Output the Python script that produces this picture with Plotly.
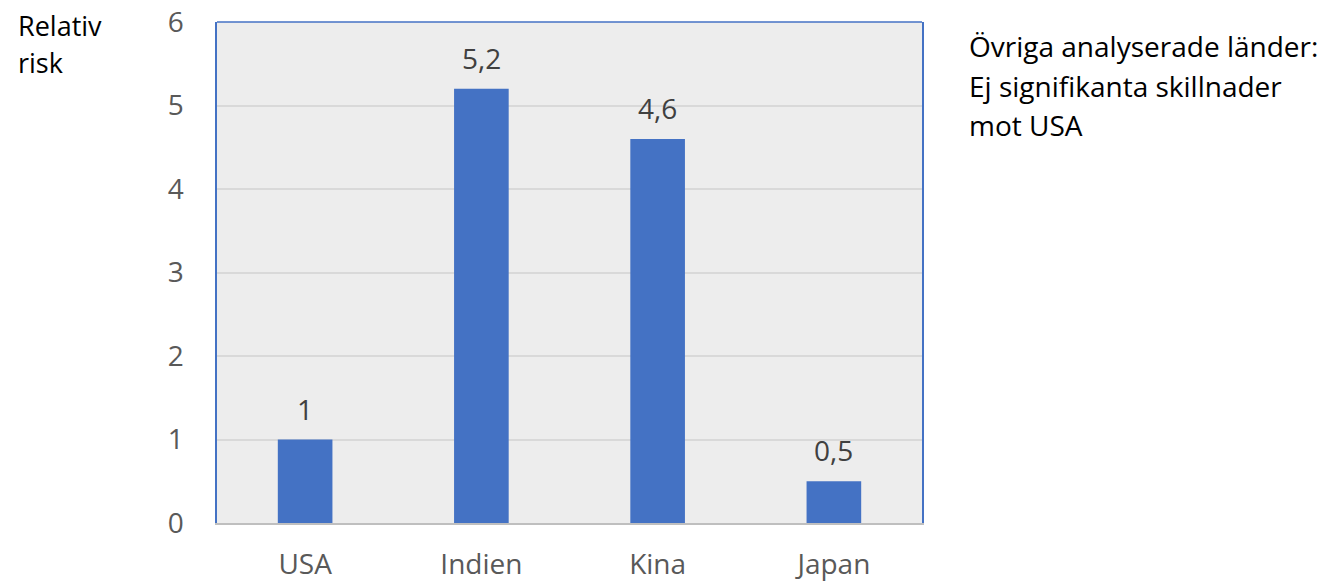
import plotly.graph_objects as go

# Relative risk by country
countries = ["USA", "Indien", "Kina", "Japan"]
relative_risk = [1.0, 5.2, 4.6, 0.5]
y_ticks = [0, 1, 2, 3, 4, 5, 6]
y_tick_labels = ["0", "1", "2", "3", "4", "5", "6"]
side_note = ["Övriga analyserade länder:", "Ej signifikanta skillnader", "mot USA"]
axis_title = ["Relativ", "risk"]

FONT = "Open Sans"
FS = 28
BAR = "#4472c4"
W, H = 1328, 582
L, R, T, B = 217, 922, 22, 523
pw, ph = R - L, B - T

fig = go.Figure(
    go.Bar(
        x=countries,
        y=relative_risk,
        width=0.31,
        marker=dict(color=BAR, line=dict(width=0)),
        cliponaxis=False,
        hoverinfo="x+y",
    )
)


def px_x(x):
    return (x - L) / pw


def px_y(y):
    return (B - y) / ph


annotations = []
# value labels above each bar (comma as decimal separator)
for c, v in zip(countries, relative_risk):
    annotations.append(dict(
        text=f"{v:g}".replace(".", ","), x=c, y=v, xref="x", yref="y",
        xanchor="center", yanchor="bottom", yshift=10, showarrow=False,
        font=dict(family=FONT, size=FS, color="#404040"),
    ))
for i, line in enumerate(axis_title):
    annotations.append(dict(
        text=line, xref="paper", yref="paper", x=px_x(16), y=px_y(25 + 37 * i),
        xanchor="left", yanchor="middle", showarrow=False,
        font=dict(family=FONT, size=FS - 1, color="#000000"),
    ))
for i, line in enumerate(side_note):
    annotations.append(dict(
        text=line, xref="paper", yref="paper", x=px_x(967), y=px_y(46 + 39.5 * i),
        xanchor="left", yanchor="middle", showarrow=False,
        font=dict(family=FONT, size=FS, color="#000000"),
    ))

fig.update_layout(
    width=W, height=H,
    margin=dict(l=L, r=W - R, t=T, b=H - B, pad=0),
    paper_bgcolor="#ffffff",
    plot_bgcolor="#ededed",
    separators=", ",
    showlegend=False,
    bargap=0.69,
    font=dict(family=FONT, size=FS, color="#595959"),
    annotations=annotations,
    shapes=[dict(type="line", xref="paper", yref="paper", x0=0, x1=1, y0=1, y1=1,
                 line=dict(color=BAR, width=1.5))],
    xaxis=dict(
        showline=True, linecolor="#bfbfbf", linewidth=1.5,
        showgrid=False, ticks="", ticklabelstandoff=16, automargin=False,
        tickfont=dict(family=FONT, size=FS, color="#595959"),
        fixedrange=True,
    ),
    yaxis=dict(
        range=[0, 6], tickvals=y_ticks, ticktext=y_tick_labels,
        showline=True, mirror=True, linecolor=BAR, linewidth=1.5,
        showgrid=True, gridcolor="#d9d9d9", gridwidth=1.5,
        zeroline=False, ticks="", ticklabelstandoff=26, automargin=False,
        tickfont=dict(family=FONT, size=FS, color="#595959"),
        fixedrange=True,
    ),
)

fig.write_html("out.html")
